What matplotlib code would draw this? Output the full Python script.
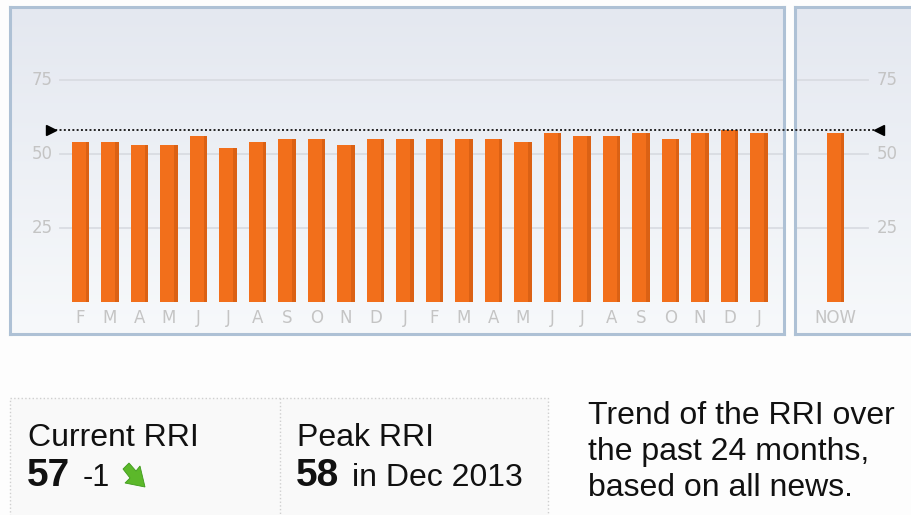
import numpy as np
import matplotlib
matplotlib.use("Agg")
import matplotlib.pyplot as plt
from matplotlib.patches import Rectangle, Polygon

# RRI values Feb 2012 .. Jan 2014, plus the current value
months = ["F", "M", "A", "M", "J", "J", "A", "S", "O", "N", "D", "J",
          "F", "M", "A", "M", "J", "J", "A", "S", "O", "N", "D", "J"]
rri = [54, 54, 53, 53, 56, 52, 54, 55, 55, 53, 55, 55,
       55, 55, 55, 54, 57, 56, 56, 57, 55, 57, 58, 57]
now_label = "NOW"
now_value = 57
peak_value = 58
yticks = [25, 50, 75]
note_lines = ["Trend of the RRI over", "the past 24 months,", "based on all news."]

W, H = 911, 515
fig = plt.figure(figsize=(W / 100, H / 100), dpi=100)
fig.patch.set_facecolor("#fdfdfd")


def px_rect(x0, y0, x1, y1):
    # pixel box (top-left origin) -> figure fraction rect
    return [x0 / W, 1 - y1 / H, (x1 - x0) / W, (y1 - y0) / H]


def fx(x):
    return x / W


def fy(y):
    return 1 - y / H


bar_c = "#f26f1b"
shade_c = "#c9560f"
grid_c = "#d9dce2"
label_c = "#c4c4c4"
border_c = "#aec1d5"

# pixel geometry of the original chart
step = 29.5          # px between bars
x_first = 80.5       # px centre of first bar
y_zero = 302.0
px_per_unit = 2.96


def panel(x0, x1, y0=7, y1=334, x_ref=x_first):
    ax = fig.add_axes(px_rect(x0, y0, x1, y1))
    ax.set_xlim((x0 - x_ref) / step, (x1 - x_ref) / step)
    ax.set_ylim((y_zero - y1) / px_per_unit, (y_zero - y0) / px_per_unit)
    grad = np.linspace(0, 1, 256).reshape(-1, 1)
    cmap = matplotlib.colors.LinearSegmentedColormap.from_list(
        "bg", ["#e4e8f0", "#f7f9fb"])
    ax.imshow(grad, cmap=cmap, aspect="auto", origin="upper",
              extent=[*ax.get_xlim(), *ax.get_ylim()], zorder=0)
    ax.set_xticks([])
    ax.set_yticks([])
    for s in ax.spines.values():
        s.set_color(border_c)
        s.set_linewidth(2.2)
    return ax


# main panel
ax = panel(10, 784)
xs = np.arange(len(rri))
gx0 = (60 - x_first) / step
gx1 = ax.get_xlim()[1]
for v in yticks:
    ax.plot([gx0, gx1], [v, v], color=grid_c, lw=1.3, zorder=1)
    ax.text((53 - x_first) / step, v, str(v), ha="right", va="center",
            color=label_c, fontsize=12, zorder=2)
ax.bar(xs, rri, width=0.6, color=bar_c, zorder=3)
ax.bar(xs + 0.24, rri, width=0.12, color=shade_c, alpha=0.55, zorder=4)
for x, m in zip(xs, months):
    ax.text(x, -5.3, m, ha="center", va="center", color=label_c,
            fontsize=12, zorder=2)

# peak reference line across both panels
x_end = (879 - x_first) / step
x_start = (51 - x_first) / step
ax.plot([x_start, x_end], [peak_value, peak_value], ls=(0, (1, 1.2)),
        color="#222222", lw=1.4, zorder=6, clip_on=False)
ax.plot([x_start], [peak_value], marker=">", color="black", ms=7,
        zorder=7, clip_on=False)
ax.plot([x_end], [peak_value], marker="<", color="black", ms=7,
        zorder=7, clip_on=False)

# "now" panel
now_x = 835.5
ax2 = panel(795, 935, x_ref=now_x)
for v in yticks:
    ax2.plot([(797 - now_x) / step, (868 - now_x) / step], [v, v],
             color=grid_c, lw=1.3, zorder=1)
    ax2.text((877 - now_x) / step, v, str(v), ha="left", va="center",
             color=label_c, fontsize=12, zorder=2)
ax2.bar([0], [now_value], width=0.6, color=bar_c, zorder=3)
ax2.bar([0.24], [now_value], width=0.12, color=shade_c, alpha=0.55, zorder=4)
ax2.text(0, -5.3, now_label, ha="center", va="center", color=label_c,
         fontsize=12, zorder=2)
ax.set_zorder(ax2.get_zorder() + 1)
ax.patch.set_visible(False)

# summary boxes
box = fig.add_axes([0, 0, 1, 1], zorder=-1)
box.set_xlim(0, W)
box.set_ylim(H, 0)
box.axis("off")
box.add_patch(Rectangle((10, 398), 538, 130, facecolor="#f9f9f9",
                        edgecolor="#cfcfcf", ls=":", lw=1))
box.plot([280, 280], [398, 520], color="#cfcfcf", ls=":", lw=1)

font = "Liberation Sans"
txt = "#111111"
fig.text(fx(28), fy(446), "Current RRI", fontsize=23, family=font,
         color=txt, va="baseline")
fig.text(fx(27), fy(486), "57", fontsize=28, fontweight="bold",
         family=font, color=txt, va="baseline")
fig.text(fx(83), fy(486), "-1", fontsize=22, family=font,
         color=txt, va="baseline")
# green down-right arrow icon
arrow = Polygon([(123, 469), (129, 463), (136, 471), (140, 466),
                 (145, 487), (125, 483), (130, 478)],
                closed=True, facecolor="#5cb82a", edgecolor="#3f9a1c", lw=0.6)
box.add_patch(arrow)

fig.text(fx(297), fy(446), "Peak RRI", fontsize=23, family=font,
         color=txt, va="baseline")
fig.text(fx(296), fy(486), str(peak_value), fontsize=28, fontweight="bold",
         family=font, color=txt, va="baseline")
fig.text(fx(352), fy(486), "in Dec 2013", fontsize=23, family=font,
         color=txt, va="baseline")

for i, line in enumerate(note_lines):
    fig.text(fx(588), fy(424 + 36 * i), line, fontsize=23, family=font,
             color=txt, va="baseline")

fig.savefig("out.png", dpi=100, facecolor=fig.get_facecolor())
